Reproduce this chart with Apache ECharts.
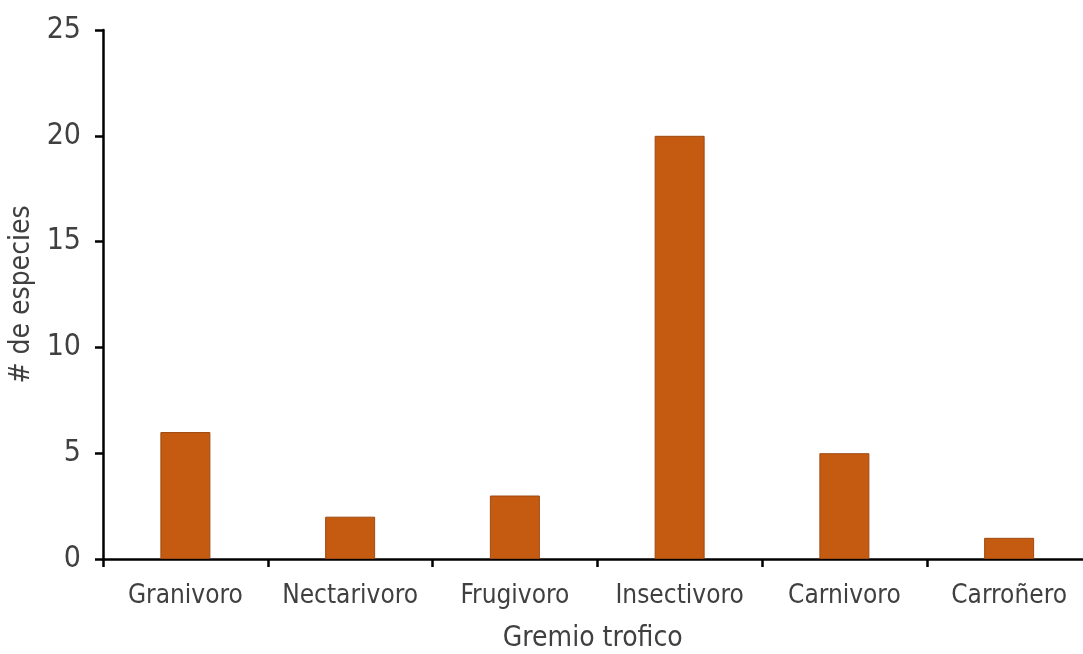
<!DOCTYPE html>
<html><head><meta charset="utf-8">
<script src="https://cdn.jsdelivr.net/npm/echarts@6/dist/echarts.min.js"></script>
<style>html,body{margin:0;padding:0;background:#fff}#c{width:1083px;height:654px}</style>
</head><body><div id="c"></div>
<script>
const categories = ["Granivoro","Nectarivoro","Frugivoro","Insectivoro","Carnivoro","Carroñero"];
const values = [6, 2, 3, 20, 5, 1];
const xTitle = "Gremio trofico";
const yTitle = "# de especies";
const FONT = "'Liberation Sans Narrow','Arial Narrow','DejaVu Sans Condensed',sans-serif";
const chart = echarts.init(document.getElementById('c'), null, {renderer:'canvas'});
chart.setOption({
  animation:false,
  backgroundColor:'#fff',
  grid:{left:103, top:30, bottom:95, width:988.5, containLabel:false, outerBoundsMode:'none'},
  xAxis:{
    type:'category', data:categories,
    name:xTitle, nameLocation:'middle', nameGap:66,
    nameTextStyle:{fontFamily:FONT, fontSize:28, color:'#404040', padding:[0,0,0,-9]},
    axisLine:{lineStyle:{color:'#000', width:2.5}},
    axisTick:{show:true, alignWithLabel:false, length:8, lineStyle:{color:'#000', width:2.5}},
    axisLabel:{fontFamily:FONT, fontSize:26, color:'#404040', margin:24, interval:0}
  },
  yAxis:{
    type:'value', min:0, max:25, interval:5,
    name:yTitle, nameLocation:'middle', nameGap:66,
    nameTextStyle:{fontFamily:FONT, fontSize:28, color:'#404040'},
    axisLine:{show:true, lineStyle:{color:'#000', width:2.5}},
    axisTick:{show:true, length:8, lineStyle:{color:'#000', width:2.5}},
    axisLabel:{fontFamily:FONT, fontSize:30, color:'#404040', margin:22},
    splitLine:{show:false}
  },
  series:[{
    type:'bar', data:values, barWidth:50,
    itemStyle:{color:'#C55A11', borderColor:'#9E4A12', borderWidth:1}
  }]
});
</script></body></html>
